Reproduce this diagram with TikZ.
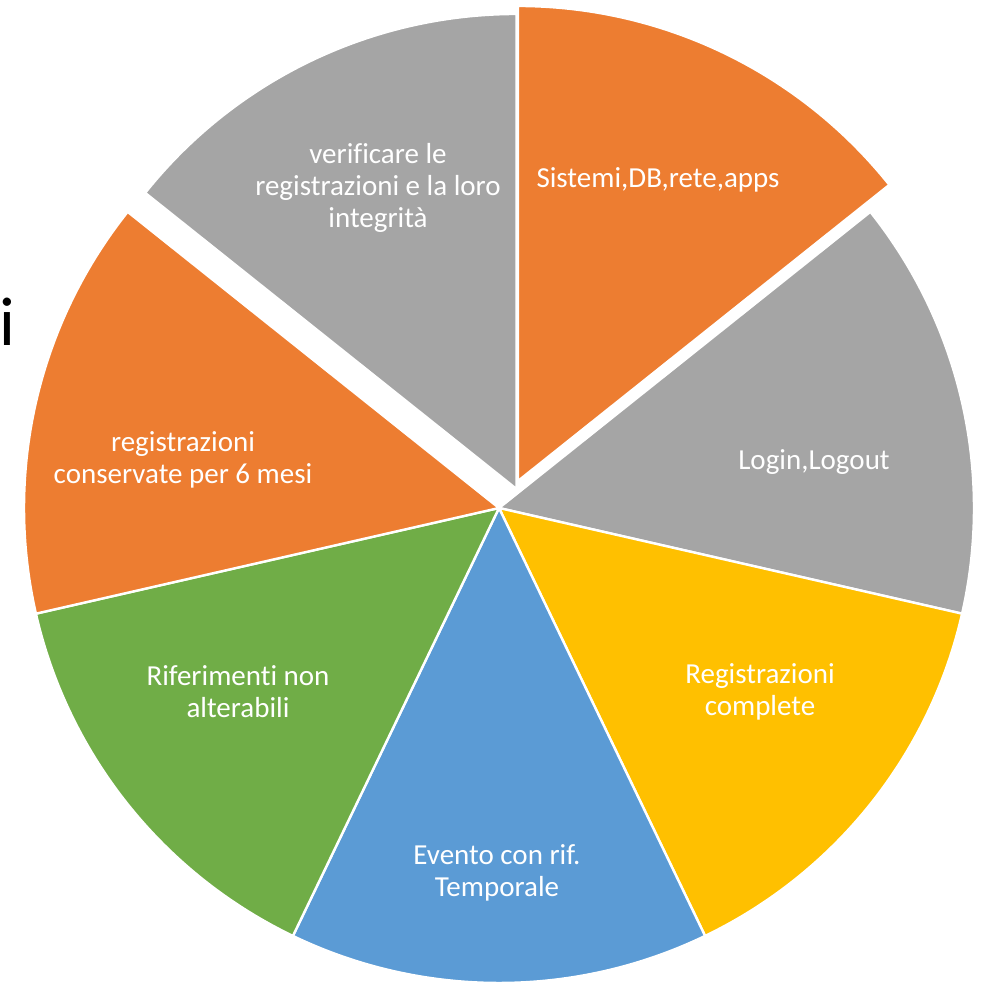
\documentclass[tikz,border=0pt]{standalone}
\usepackage{fontspec}
\setmainfont{Carlito}[Ligatures=NoCommon]
\definecolor{pieorange}{HTML}{ED7D31}
\definecolor{piegray}{HTML}{A5A5A5}
\definecolor{pieyellow}{HTML}{FFC000}
\definecolor{pieblue}{HTML}{5B9BD5}
\definecolor{piegreen}{HTML}{70AD47}
\tikzset{
  slicefill/.style={fill=#1, draw=white, line width=2.4pt, line join=miter},
  lbl/.style={text=white, align=center, font=\fontsize{29}{32}\selectfont, inner sep=0pt},
}
\newcommand{\pieslice}[4]{% center, start, end, color
  \path[slicefill=#4] (#1) -- ++(#2:475) arc[start angle=#2, end angle=#3, radius=475] -- cycle;
}
\begin{document}
\begin{tikzpicture}[x=1pt,y=1pt]
\useasboundingbox (0,0) rectangle (980,982);
\coordinate (c) at (499,474);
\coordinate (cs) at (518,501);
\coordinate (cv) at (516.5,493);
\pieslice{c}{-12.857}{38.571}{piegray}
\pieslice{c}{-64.286}{-12.857}{pieyellow}
\pieslice{c}{-115.714}{-64.286}{pieblue}
\pieslice{c}{-167.143}{-115.714}{piegreen}
\pieslice{c}{141.429}{192.857}{pieorange}
\pieslice{cs}{38.571}{90}{pieorange}
\pieslice{cv}{90}{141.429}{piegray}
\node[lbl] (t1) at (378,794) {verificare le\\registrazioni e la loro\\integrità};
\node[lbl] (t2) at (658,802) {Sistemi,DB,rete,apps};
\node[lbl] (t3) at (814,520) {Login,Logout};
\node[lbl] (t4) at (760,290) {Registrazioni\\complete};
\node[lbl] (t5) at (497,109) {Evento con rif.\\Temporale};
\node[lbl] (t6) at (238,290) {Riferimenti non\\alterabili};
\node[lbl] (t7) at (183,522) {registrazioni\\conservate per 6 mesi};
\node[inner sep=0pt, anchor=base, font=\fontsize{69}{70}\selectfont] (ti) at (7,636) {i};
\end{tikzpicture}
\end{document}
